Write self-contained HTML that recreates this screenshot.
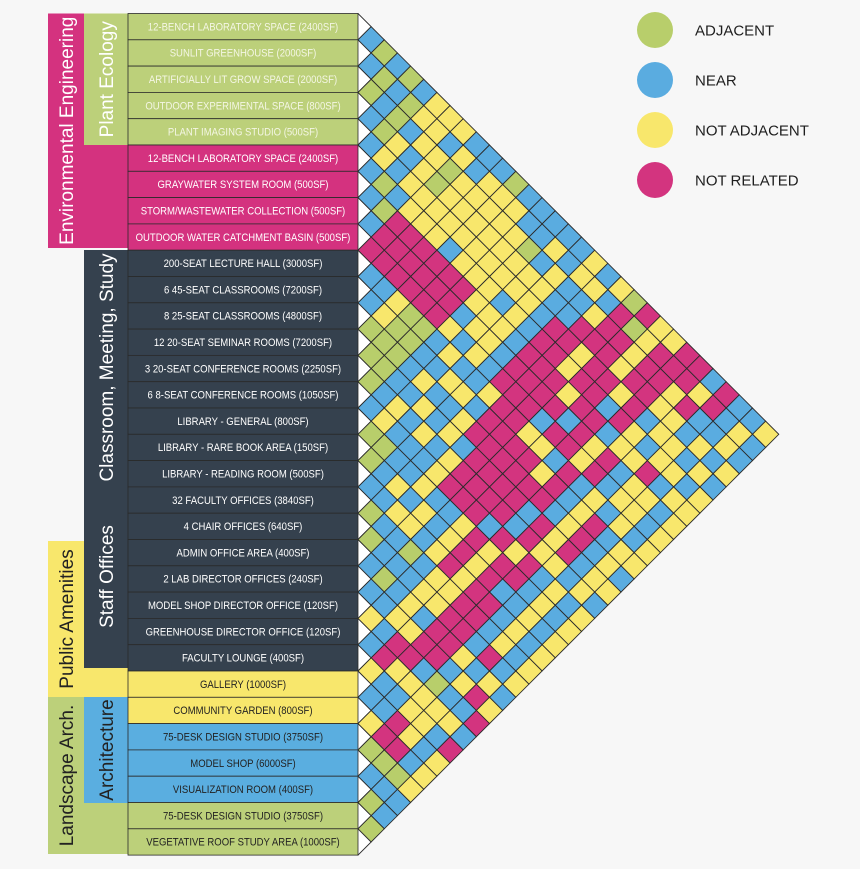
<!DOCTYPE html>
<html><head><meta charset="utf-8">
<style>
html,body{margin:0;padding:0;background:#f7f7f7;}
svg{display:block;font-family:"Liberation Sans",sans-serif;}
</style></head>
<body>
<svg id="chart" width="860" height="869" viewBox="0 0 860 869" xmlns="http://www.w3.org/2000/svg">
<rect width="860" height="869" fill="#f7f7f7"/>
<g id="groups"></g>
<g id="cells"></g>
<g id="labels"></g>
<g id="legend"></g>
</svg>
<script>
const roomNames = [
"12-BENCH LABORATORY SPACE (2400SF)","SUNLIT GREENHOUSE (2000SF)","ARTIFICIALLY LIT GROW SPACE (2000SF)",
"OUTDOOR EXPERIMENTAL SPACE (800SF)","PLANT IMAGING STUDIO (500SF)","12-BENCH LABORATORY SPACE (2400SF)",
"GRAYWATER SYSTEM ROOM (500SF)","STORM/WASTEWATER COLLECTION (500SF)","OUTDOOR WATER CATCHMENT BASIN (500SF)",
"200-SEAT LECTURE HALL (3000SF)","6 45-SEAT CLASSROOMS (7200SF)","8 25-SEAT CLASSROOMS (4800SF)",
"12 20-SEAT SEMINAR ROOMS (7200SF)","3 20-SEAT CONFERENCE ROOMS (2250SF)","6 8-SEAT CONFERENCE ROOMS (1050SF)",
"LIBRARY - GENERAL (800SF)","LIBRARY - RARE BOOK AREA (150SF)","LIBRARY - READING ROOM (500SF)",
"32 FACULTY OFFICES (3840SF)","4 CHAIR OFFICES (640SF)","ADMIN OFFICE AREA (400SF)",
"2 LAB DIRECTOR OFFICES (240SF)","MODEL SHOP DIRECTOR OFFICE (120SF)","GREENHOUSE DIRECTOR OFFICE (120SF)",
"FACULTY LOUNGE (400SF)","GALLERY (1000SF)","COMMUNITY GARDEN (800SF)","75-DESK DESIGN STUDIO (3750SF)",
"MODEL SHOP (6000SF)","VISUALIZATION ROOM (400SF)","75-DESK DESIGN STUDIO (3750SF)","VEGETATIVE ROOF STUDY AREA (1000SF)"];
const roomGroup = ["g","g","g","g","g","m","m","m","m","d","d","d","d","d","d","d","d","d","d","d","d","d","d","d","d","y","y","b","b","b","g","g"];
// relation codes: G adjacent, B near, Y not adjacent, M not related. row i lists pairs (i, j>i)
const relations = [
"BGBGBYYYBBBGBBBBBYBYGMYYMMBMBBY",
"BGBGYYBYBYYYBBYBYYBMGYMMMYMBYB",
"GBGBYYGYYYYYGBYBBYMMYMMYMBBYB",
"BGYBYGYYYYYYYYBBMMMYMMYYBYBY",
"BYBYYYYYYYYYYBMMYMMYMBYYBYB",
"BGBYYYBYYYBYBMMYMMBMYBYYBY",
"BGMMMMMMYYYBMMMYMMBYYMBYY",
"BMMMMMMBYYBMMMMBMYMBYYBY",
"MMMMMMYBYBMMMBMMYMBYYBY",
"BBYGGBYBBYMMYYBMBYBYBY",
"BYGGBBYYBMMMMYMBYMBYY",
"GGGBYBBYMMMMMMBYMBYB",
"GGBBYBYBMMMMBMYMBYY",
"GBYBYBYMMMMBMYYBYB",
"BYBBBYMMMBMYMBYBY",
"GGBBYBBYMYMMBYBY",
"GBYBYBYMYMBBYBY",
"BBYYBYMYMMBYBY",
"GBBGBYYMMBYBY",
"GBBBYYMMBMBY",
"BGBYBMMYBYB",
"BBYYMMBYMY",
"YBMMBGBBM",
"BMYYYYYB",
"YBBYYBM",
"BBMYBY",
"YMMBY",
"GGGY",
"BBB",
"GB",
"G"];
const legendLabels = ["ADJACENT","NEAR","NOT ADJACENT","NOT RELATED"];
const legendCodes = ["G","B","Y","M"];

const NS="http://www.w3.org/2000/svg";
const colors={G:"#b8ce6b",B:"#5aace0",Y:"#f8e76c",M:"#d3347f"};
const groupFill={g:"#bcd07a",m:"#d4327f",d:"#35414e",y:"#f8e76c",b:"#5aaee0"};
const top0=13.5, rowH=26.3, half=rowH/2, mx=358;
function el(t,a,p){const e=document.createElementNS(NS,t);for(const k in a)e.setAttribute(k,a[k]);p.appendChild(e);return e;}
function ry(i){return top0+i*rowH;}
function cellX(i,j){return mx+(j-i)*half;}
function cellY(i,j){return top0+(i+j+1)*half;}

const G=document.getElementById('groups');
const blocks=[
 [48,13.5,36,234.5,"#d4327f","Environmental Engineering","#fff","env-eng-group"],
 [84,13.5,44,131.5,"#bcd07a","Plant Ecology","#fff","plant-ecology-group"],
 [84,145,44,103,"#d4327f","","#fff","water-group"],
 [84,250,44,235,"#35414e","Classroom, Meeting, Study","#fff","classroom-group"],
 [84,485,44,183,"#35414e","Staff Offices","#fff","staff-offices-group"],
 [48,541,36,156,"#f8e76c","Public Amenities","#222","public-amenities-group"],
 [84,668,44,29,"#f8e76c","","#222","gallery-group"],
 [48,697,36,157,"#bcd07a","Landscape Arch.","#222","landscape-group"],
 [84,697,44,106,"#5aaee0","Architecture","#222","architecture-group"],
 [84,803,44,51,"#bcd07a","","#222","landscape-rows-group"]];
blocks.forEach(b=>{
 const r=el('rect',{x:b[0],y:b[1],width:b[2],height:b[3],fill:b[4]},G);
 
 
 if(b[5]){
  const cx=b[0]+b[2]/2+7, cy=b[1]+b[3]/2;
  const t=el('text',{x:cx,y:cy,fill:b[6],'font-size':19,'text-anchor':'middle',transform:`rotate(-90 ${cx} ${cy})`},G);
  t.textContent=b[5];
  
  
 }
});
const C=document.getElementById('cells');
function diamond(cx,cy,fill){return el('polygon',{points:`${cx-half},${cy} ${cx},${cy-half} ${cx+half},${cy} ${cx},${cy+half}`,fill:fill,stroke:"#2b2b2b","stroke-width":0.9},C);}
for(let i=0;i<roomNames.length;i++){
 const d=diamond(mx,ry(i)+half,"#ffffff");
 
 
}
relations.forEach((row,i)=>{
 for(let k=0;k<row.length;k++){
  const j=i+1+k;
  const p=diamond(cellX(i,j),cellY(i,j),colors[row[k]]);
  
  
 }
});
const L=document.getElementById('labels');
roomNames.forEach((n,i)=>{
 const g=roomGroup[i];
 const r=el('rect',{x:128,y:ry(i),width:230,height:rowH,fill:groupFill[g],stroke:"#2a2a2a","stroke-width":0.8},L);
 
 
 const light=(g==='m'||g==='d'||(g==='g'&&i<5));
 const t=el('text',{x:243,y:ry(i)+rowH/2+3.8,fill:light?(g==='g'?"#f4f6e4":"#fff"):"#222",'font-size':10.6,'text-anchor':'middle',transform:`translate(243 0) scale(0.9 1) translate(-243 0)`},L);
 t.textContent=n;
 
 
});
const LG=document.getElementById('legend');
legendLabels.forEach((lab,k)=>{
 const cy=30+k*50;
 const c=el('circle',{cx:655,cy:cy,r:18,fill:colors[legendCodes[k]]},LG);
 
 
 const t=el('text',{x:695,y:cy+5.5,fill:"#1e1e1e",'font-size':15},LG);
 t.textContent=lab;
 
 
});
</script>
</body></html>
